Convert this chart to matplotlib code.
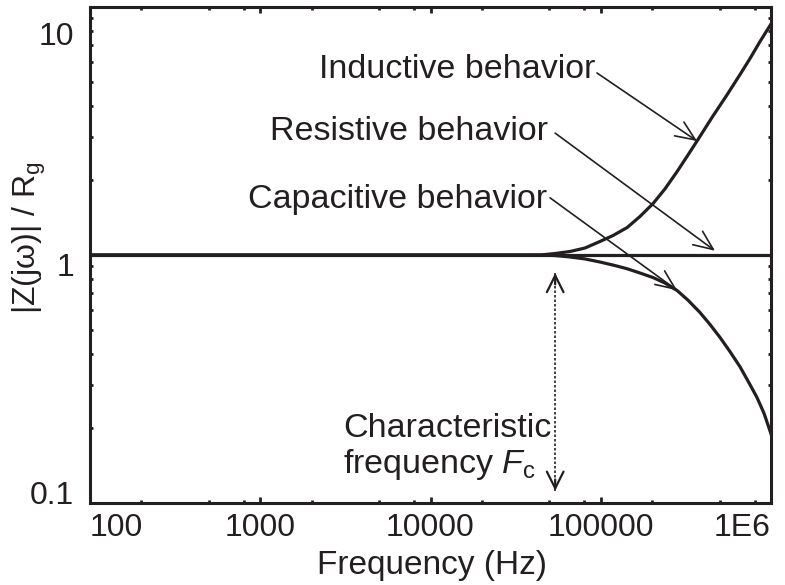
import matplotlib.pyplot as plt
from matplotlib.ticker import LogLocator, NullFormatter

plt.rcParams['font.family'] = ['Liberation Sans', 'DejaVu Sans']
plt.rcParams['mathtext.fontset'] = 'custom'
plt.rcParams['mathtext.rm'] = 'Liberation Sans'
plt.rcParams['mathtext.it'] = 'Liberation Sans:italic'

INK = '#231f20'

# normalised impedance |Z(jw)|/Rg against frequency (Hz)
freq_res = [100, 1e6]
z_res = [1.0, 1.0]

freq_ind = [100, 1e3, 1e4, 4.4e4, 5.39e4, 6.6e4, 8.08e4, 9.9e4, 1.18e5, 1.43e5,
            1.70e5, 2.03e5, 2.38e5, 2.81e5, 3.21e5, 3.68e5, 4.50e5, 5.51e5,
            6.58e5, 7.53e5, 8.62e5, 1e6]
z_ind = [1.0, 1.0, 1.0, 1.0, 1.014, 1.033, 1.067, 1.134, 1.198, 1.291,
         1.43, 1.613, 1.845, 2.171, 2.495, 2.883, 3.584, 4.418,
         5.344, 6.199, 7.26, 8.54]

freq_cap = [100, 1e3, 1e4, 4.4e4, 5.39e4, 6.6e4, 8.08e4, 9.9e4, 1.21e5, 1.43e5,
            1.70e5, 2.03e5, 2.38e5, 2.81e5, 3.25e5, 3.83e5, 4.38e5, 5.02e5,
            5.74e5, 6.58e5, 7.53e5, 8.28e5, 9.10e5, 1e6]
z_cap = [1.0, 1.0, 1.0, 1.0, 0.995, 0.982, 0.964, 0.937, 0.907, 0.880,
         0.846, 0.811, 0.771, 0.719, 0.658, 0.586, 0.525, 0.465,
         0.408, 0.354, 0.300, 0.266, 0.230, 0.190]

fc = 5.4e4          # characteristic frequency
fc_span = (0.112, 0.846)

xticks = [100, 1000, 10000, 100000, 1e6]
xticklabels = ['100', '1000', '10000', '100000', '1E6']
yticks = [0.1, 1, 10]
yticklabels = ['0.1', '1', '10']

# label text, text anchor (axes fraction), arrow tail and tip (data)
notes = [
    ('Inductive behavior', (0.7416, 0.857), (9.5e4, 5.42), (3.68e5, 2.88)),
    ('Resistive behavior', (0.6725, 0.732), (5.4e4, 3.10), (4.69e5, 1.04)),
    ('Capacitive behavior', (0.671, 0.595), (5.04e4, 1.70), (2.81e5, 0.72)),
]

fig = plt.figure(figsize=(7.85, 5.85), dpi=100)
ax = fig.add_axes([90 / 785, 1 - 503 / 585, 681 / 785, 496 / 585])
ax.set_xscale('log')
ax.set_yscale('log')
ax.set_xlim(100, 1e6)
ax.set_ylim(0.1, 10)

ax.plot(freq_res, z_res, color=INK, lw=2.3, solid_capstyle='butt')
ax.plot(freq_ind, z_ind, color=INK, lw=2.3)
ax.plot(freq_cap, z_cap, color=INK, lw=2.3)

for txt, pos, tail, tip in notes:
    ax.text(pos[0], pos[1], txt, transform=ax.transAxes, ha='right',
            va='baseline', fontsize=24.5, color=INK)
    ax.annotate('', xy=tip, xytext=tail,
                arrowprops=dict(arrowstyle='->,head_length=0.7,head_width=0.3',
                                color=INK, lw=1.2, shrinkA=0, shrinkB=0,
                                mutation_scale=20))

# dotted double arrow marking Fc
ax.plot([fc, fc], fc_span, color=INK, lw=1.2, linestyle=(0, (1.5, 1.2)))
ax.annotate('', xy=(fc, fc_span[1]), xytext=(fc, fc_span[1] * 0.9),
            arrowprops=dict(arrowstyle='->,head_length=0.6,head_width=0.3',
                            color=INK, lw=1.6, shrinkA=0, shrinkB=0,
                            mutation_scale=20))
ax.annotate('', xy=(fc, fc_span[0]), xytext=(fc, fc_span[0] / 0.9),
            arrowprops=dict(arrowstyle='->,head_length=0.6,head_width=0.3',
                            color=INK, lw=1.6, shrinkA=0, shrinkB=0,
                            mutation_scale=20))
ax.text(0.3715, 0.133, 'Characteristic', transform=ax.transAxes,
        ha='left', va='baseline', fontsize=24.5, color=INK)
ax.text(0.3715, 0.0605, r'frequency $\mathit{F}_\mathrm{c}$', transform=ax.transAxes,
        ha='left', va='baseline', fontsize=24.5, color=INK)

# axes, ticks
for s in ax.spines.values():
    s.set_linewidth(2.2)
    s.set_color(INK)

ax.set_xticks(xticks)
ax.set_xticklabels(xticklabels)
ax.xaxis.set_minor_locator(LogLocator(base=10, subs=(2, 5, 8)))
ax.xaxis.set_minor_formatter(NullFormatter())
ax.set_yticks(yticks)
ax.yaxis.set_minor_locator(LogLocator(base=10, subs=range(2, 10)))
ax.yaxis.set_minor_formatter(NullFormatter())
ax.tick_params(which='both', direction='in', top=True, right=True,
               color=INK, labelcolor=INK, labelsize=23)
ax.tick_params(which='major', length=4, width=2)
ax.tick_params(which='minor', length=2.5, width=2)
ax.tick_params(axis='x', pad=7)
ax.tick_params(axis='y', labelleft=False)

xl = ax.get_xticklabels()
xl[0].set_ha('left')
xl[-1].set_ha('right')

# y tick labels sit a little below their ticks
yoffsets = [5, -9.4, -21.6]
for val, lab, dy in zip(yticks, yticklabels, yoffsets):
    ax.annotate(lab, xy=(0, val), xycoords=('axes fraction', 'data'),
                xytext=(-11.5, dy), textcoords='offset points',
                ha='right', va='center', fontsize=23, color=INK)

ax.set_xlabel('Frequency (Hz)', fontsize=24, color=INK)
ax.xaxis.set_label_coords(0.502, -0.095)
ax.set_ylabel(r'|Z(jω)| / R$_\mathrm{g}$', fontsize=23, color=INK)
ax.yaxis.set_label_coords(-0.062, 0.536)

fig.savefig('out.png', dpi=100)
